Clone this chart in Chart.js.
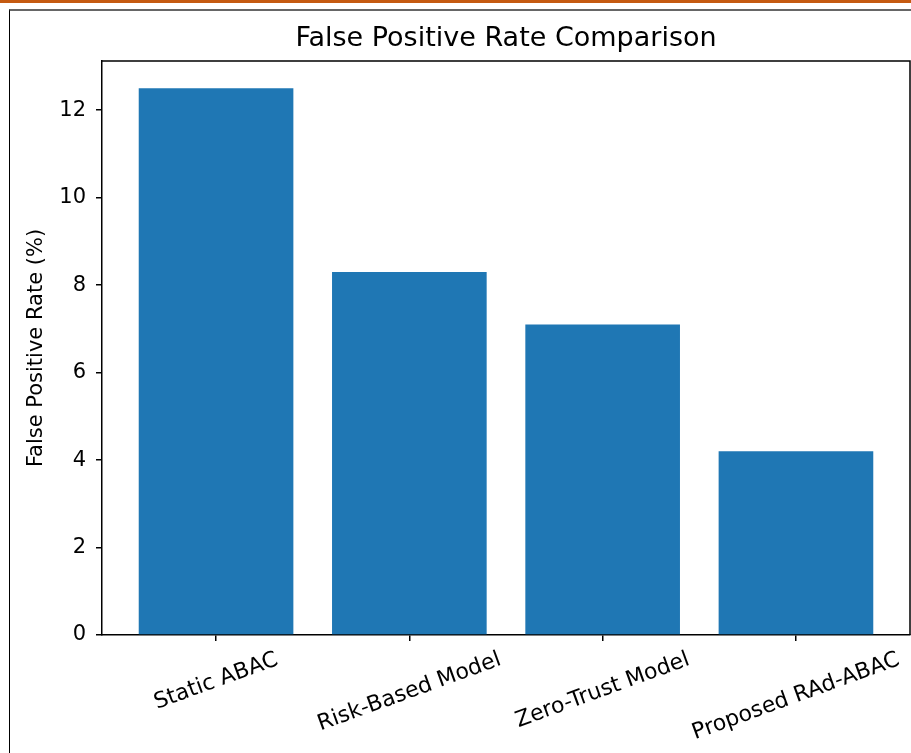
<!DOCTYPE html>
<html>
<head>
<meta charset="utf-8">
<title>False Positive Rate Comparison</title>
<script src="https://cdn.jsdelivr.net/npm/chart.js"></script>
<style>
  html, body { margin: 0; padding: 0; background: #fff; }
  #wrap { position: relative; width: 911px; height: 753px; overflow: hidden; }
  #topline { position: absolute; left: 0; top: 0; width: 911px; height: 3px; background: #c55a11; }
  #frame { position: absolute; left: 9px; top: 9px; right: 0; bottom: 0; border-top: 2px solid #666; border-left: 1px solid #000; }
  canvas { position: absolute; left: 0; top: 0; }
</style>
</head>
<body>
<div id="wrap">
  <div id="topline"></div>
  <div id="frame"></div>
  <canvas id="myChart" width="911" height="753"></canvas>
</div>
<script>
// chart data
const categories = ['Static ABAC', 'Risk-Based Model', 'Zero-Trust Model', 'Proposed RAd-ABAC'];
const fpRate = [12.5, 8.3, 7.1, 4.2];
const yTicks = [0, 2, 4, 6, 8, 10, 12];
const chartTitle = 'False Positive Rate Comparison';
const yLabel = 'False Positive Rate (%)';

const FONT = "'DejaVu Sans', sans-serif";

// draws the matplotlib-like bits: title, y label, rotated x labels, top/right spines
const extras = {
  id: 'extras',
  afterDraw(chart) {
    const {ctx, chartArea, scales} = chart;
    ctx.save();
    ctx.strokeStyle = '#000';
    ctx.lineWidth = 1.5;
    ctx.beginPath();
    ctx.moveTo(chartArea.left, chartArea.top);
    ctx.lineTo(chartArea.right, chartArea.top);
    ctx.lineTo(chartArea.right, chartArea.bottom);
    ctx.stroke();

    ctx.fillStyle = '#000';
    ctx.font = '27px ' + FONT;
    ctx.textAlign = 'center';
    ctx.textBaseline = 'alphabetic';
    ctx.fillText(chartTitle, (chartArea.left + chartArea.right) / 2, 46);

    ctx.font = '21px ' + FONT;
    ctx.save();
    ctx.translate(37, (chartArea.top + chartArea.bottom) / 2);
    ctx.rotate(-Math.PI / 2);
    ctx.textBaseline = 'middle';
    ctx.fillText(yLabel, 0, 0);
    ctx.restore();

    const ang = 20 * Math.PI / 180;
    const size = 22;
    ctx.font = size + 'px ' + FONT;
    categories.forEach((c, i) => {
      const w = ctx.measureText(c).width;
      const h = size * 1.17;
      const H = w * Math.sin(ang) + h * Math.cos(ang);
      const cx = scales.x.getPixelForValue(i);
      const cy = chartArea.bottom + 12 + H / 2;
      ctx.save();
      ctx.translate(cx, cy);
      ctx.rotate(-ang);
      ctx.textBaseline = 'middle';
      ctx.fillText(c, 0, 0);
      ctx.restore();
    });
    ctx.restore();
  }
};

let ctx = document.getElementById('myChart').getContext('2d');
let myChart = new Chart(ctx, {
  type: 'bar',
  data: {
    datasets: [{
      data: categories.map((c, i) => ({x: i, y: fpRate[i]})),
      backgroundColor: '#1f77b4',
      borderWidth: 0,
      barPercentage: 0.8,
      categoryPercentage: 1.0
    }]
  },
  options: {
    responsive: false,
    animation: false,
    layout: { padding: { top: 61, right: 1, left: 0, bottom: 0 } },
    plugins: { legend: { display: false }, tooltip: { enabled: false }, title: { display: false } },
    scales: {
      x: {
        type: 'linear',
        min: -0.59,
        max: 3.59,
        offset: false,
        afterBuildTicks: (s) => { s.ticks = categories.map((c, i) => ({value: i})); },
        afterFit: (s) => { s.height = 118; },
        ticks: { display: false },
        grid: { display: true, drawOnChartArea: false, drawTicks: true, tickLength: 6, color: '#000', lineWidth: 1.5, offset: false },
        border: { display: true, color: '#000', width: 1.5 }
      },
      y: {
        min: 0,
        max: 13.125,
        afterBuildTicks: (s) => { s.ticks = yTicks.map(v => ({value: v})); },
        afterFit: (s) => { s.width = 102; },
        ticks: { color: '#000', padding: 10, font: { family: FONT, size: 21 } },
        grid: { display: true, drawOnChartArea: false, drawTicks: true, tickLength: 6, color: '#000', lineWidth: 1.5 },
        border: { display: true, color: '#000', width: 1.5 }
      }
    }
  },
  plugins: [extras]
});
</script>
</body>
</html>
